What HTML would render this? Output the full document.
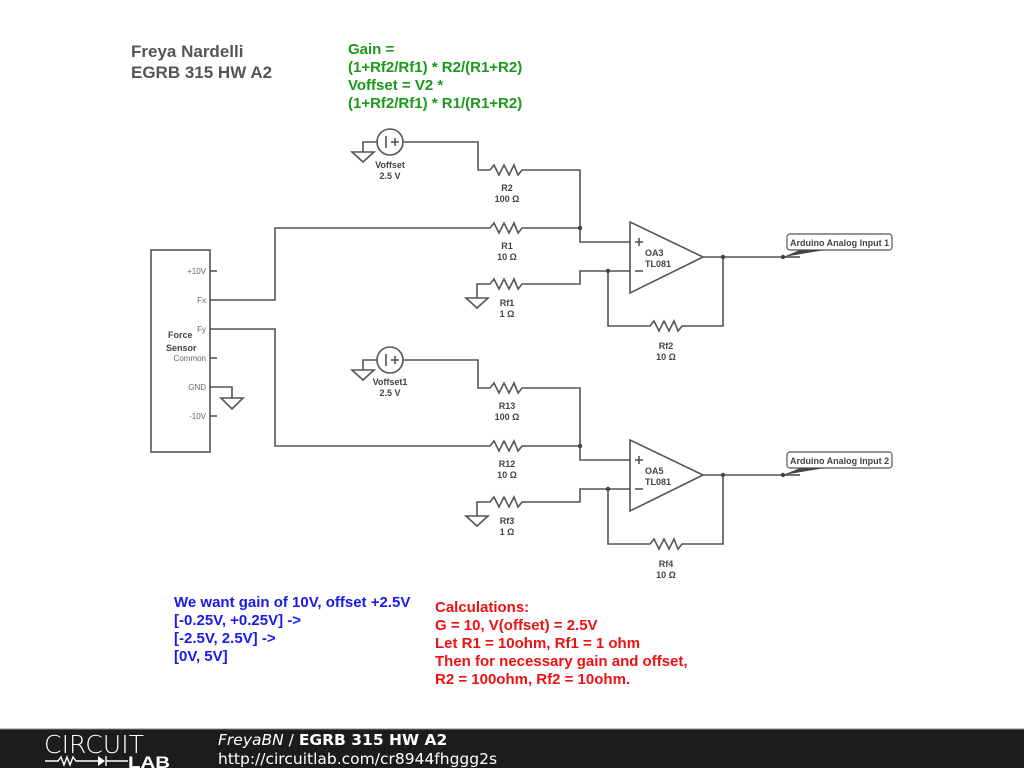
<!DOCTYPE html>
<html><head><meta charset="utf-8"><style>
html,body{margin:0;padding:0;background:#fff;}
svg{display:block;}
</style></head><body>
<svg width="1024" height="768" viewBox="0 0 1024 768" xmlns="http://www.w3.org/2000/svg" font-family="Liberation Sans, sans-serif">
<defs>
<g id="ckt" stroke="#555" stroke-width="1.6" fill="none">
  <circle cx="390" cy="142" r="13"/>
  <line x1="386" y1="136" x2="386" y2="148"/>
  <line x1="391" y1="142" x2="399" y2="142"/><line x1="395" y1="138" x2="395" y2="146"/>
  <polyline points="377,142 363,142 363,152"/>
  <polygon points="352,152 374,152 363,162"/>
  <polyline points="403,142 478,142 478,170 490,170"/>
  <polyline points="490,170 494,165 499,175 504,165 509,175 514,165 518,175 522,170 580,170 580,242 630,242"/>
  <polyline points="490,228 494,223 499,233 504,223 509,233 514,223 518,233 522,228 580,228"/>
  <polyline points="477,298 477,284 490,284 494,279 499,289 504,279 509,289 514,279 518,289 522,284 580,284 580,271 630,271"/>
  <polygon points="466,298 488,298 477,308"/>
  <polygon points="630,222 630,293 703,257"/>
  <line x1="635" y1="242" x2="643" y2="242"/><line x1="639" y1="238" x2="639" y2="246"/>
  <line x1="635" y1="271" x2="643" y2="271"/>
  <polyline points="608,271 608,326 650,326 654,321 659,331 664,321 669,331 674,321 678,331 682,326 723,326 723,257"/>
  <line x1="703" y1="257" x2="783" y2="257"/>
  <rect x="787" y="234" width="105" height="16" rx="3" stroke-width="1.2"/>
</g>
</defs>
<g>
<use href="#ckt"/>
<g fill="#444"><circle cx="580" cy="228" r="2.2"/><circle cx="608" cy="271" r="2.2"/><circle cx="723" cy="257" r="2.2"/><circle cx="783" cy="257" r="2.2"/>
<polygon points="783,257 800,250 825,250"/></g>
<line x1="783" y1="257" x2="800" y2="257" stroke="#444" stroke-width="1.5"/>
</g>
<g transform="translate(0,218)">
<use href="#ckt"/>
<g fill="#444"><circle cx="580" cy="228" r="2.2"/><circle cx="608" cy="271" r="2.2"/><circle cx="723" cy="257" r="2.2"/><circle cx="783" cy="257" r="2.2"/>
<polygon points="783,257 800,250 825,250"/></g>
<line x1="783" y1="257" x2="800" y2="257" stroke="#444" stroke-width="1.5"/>
</g>
<g stroke="#555" stroke-width="1.6" fill="none">
<polyline points="210,300 275,300 275,228 490,228"/>
<polyline points="210,329 275,329 275,446 490,446"/>
<rect x="151" y="250" width="59" height="202"/>
<line x1="210" y1="271" x2="217" y2="271"/><line x1="210" y1="358" x2="217" y2="358"/><line x1="210" y1="416" x2="217" y2="416"/>
<polyline points="210,387 232,387 232,398"/>
<polygon points="221,398 243,398 232,409"/>
</g>
<g font-size="9" font-weight="bold" fill="#444" text-anchor="middle">
<text x="390" y="168">Voffset</text><text x="390" y="179">2.5 V</text>
<text x="507" y="191">R2</text><text x="507" y="202">100 Ω</text>
<text x="507" y="249">R1</text><text x="507" y="260">10 Ω</text>
<text x="507" y="306">Rf1</text><text x="507" y="317">1 Ω</text>
<text x="666" y="349">Rf2</text><text x="666" y="360">10 Ω</text>
<text x="390" y="385">Voffset1</text><text x="390" y="396">2.5 V</text>
<text x="507" y="409">R13</text><text x="507" y="420">100 Ω</text>
<text x="507" y="467">R12</text><text x="507" y="478">10 Ω</text>
<text x="507" y="524">Rf3</text><text x="507" y="535">1 Ω</text>
<text x="666" y="567">Rf4</text><text x="666" y="578">10 Ω</text>
</g>
<g font-size="9" font-weight="bold" fill="#444">
<text x="645" y="256">OA3</text><text x="645" y="267">TL081</text>
<text x="645" y="474">OA5</text><text x="645" y="485">TL081</text>
<text x="790" y="246">Arduino Analog Input 1</text>
<text x="790" y="464">Arduino Analog Input 2</text>
<text x="168" y="338">Force</text><text x="166" y="351">Sensor</text>
</g>
<g font-size="8" fill="#666" text-anchor="end">
<text x="206" y="274">+10V</text><text x="206" y="303">Fx</text><text x="206" y="332">Fy</text>
<text x="206" y="361">Common</text><text x="206" y="390">GND</text><text x="206" y="419">-10V</text>
</g>
<g font-size="17" font-weight="bold" fill="#555">
<text x="131" y="57">Freya Nardelli</text><text x="131" y="78">EGRB 315 HW A2</text>
</g>
<g font-size="15" font-weight="bold" fill="#1a9a1a">
<text x="348" y="54">Gain =</text><text x="348" y="72">(1+Rf2/Rf1) * R2/(R1+R2)</text>
<text x="348" y="90">Voffset = V2 *</text><text x="348" y="108">(1+Rf2/Rf1) * R1/(R1+R2)</text>
</g>
<g font-size="15" font-weight="bold" fill="#1a1aee">
<text x="174" y="607">We want gain of 10V, offset +2.5V</text>
<text x="174" y="625">[-0.25V, +0.25V] -&gt;</text>
<text x="174" y="643">[-2.5V, 2.5V] -&gt;</text>
<text x="174" y="661">[0V, 5V]</text>
</g>
<g font-size="15" font-weight="bold" fill="#ee1111">
<text x="435" y="612">Calculations:</text>
<text x="435" y="630">G = 10, V(offset) = 2.5V</text>
<text x="435" y="648">Let R1 = 10ohm, Rf1 = 1 ohm</text>
<text x="435" y="666">Then for necessary gain and offset,</text>
<text x="435" y="684">R2 = 100ohm, Rf2 = 10ohm.</text>
</g>
<rect x="0" y="729" width="1024" height="39" fill="#1c1c1c"/>
<line x1="0" y1="729" x2="1024" y2="729" stroke="#888" stroke-width="1"/>
<text x="44" y="753" font-size="25" fill="#fff" textLength="100" lengthAdjust="spacingAndGlyphs" style="font-family:'DejaVu Sans',sans-serif;font-weight:200">CIRCUIT</text>
<g stroke="#fff" stroke-width="1.4" fill="none">
<polyline points="45,761 58,761 61,757 64,765 67,757 70,765 73,757 76,761 98,761"/>
<line x1="106" y1="761" x2="128" y2="761"/>
<line x1="106" y1="756" x2="106" y2="766"/>
</g>
<polygon points="98,756 98,766 105,761" fill="#fff"/>
<text x="128" y="768" font-size="17" font-weight="bold" fill="#fff" textLength="42" lengthAdjust="spacingAndGlyphs">LAB</text>
<text x="218" y="745" font-size="15.5" fill="#fff" style="font-family:'DejaVu Sans',sans-serif"><tspan font-style="italic">FreyaBN</tspan> / <tspan font-weight="bold">EGRB 315 HW A2</tspan></text>
<text x="218" y="764" font-size="15.5" fill="#fff" style="font-family:'DejaVu Sans',sans-serif">http://circuitlab.com/cr8944fhggg2s</text>
</svg>
</body></html>
